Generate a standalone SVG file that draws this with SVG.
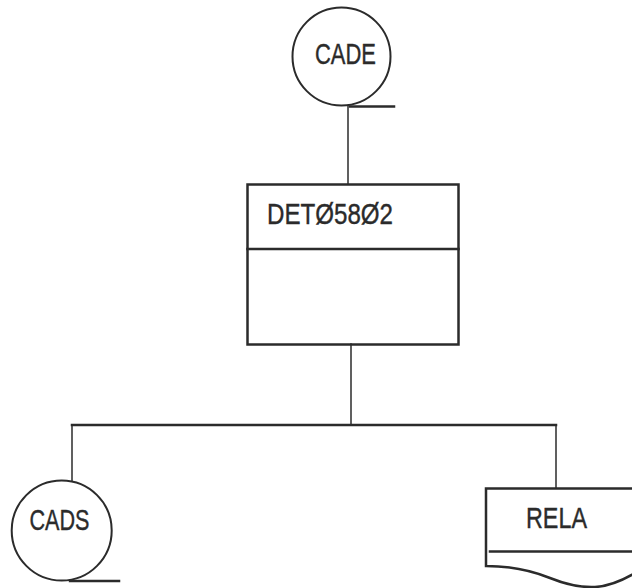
<svg xmlns="http://www.w3.org/2000/svg" width="632" height="588" viewBox="0 0 632 588">
<style>
.s{fill:none;stroke:#2b2b2b;stroke-linecap:square}
.thin{stroke-width:1.5}
.thick{stroke-width:2.5}
.t{font-family:"Liberation Sans","DejaVu Sans",sans-serif;font-size:30px;fill:#2b2b2b;stroke:#2b2b2b;stroke-width:0.4}
</style>
<rect width="632" height="588" fill="#ffffff"/>
<g id="connectors" class="s thin">
<line x1="348" y1="106" x2="348" y2="184"/>
<line x1="351" y1="344" x2="351" y2="425"/>
<line x1="72" y1="425" x2="556" y2="425" class="s thick"/>
<line x1="72" y1="425" x2="72" y2="481"/>
<line x1="556" y1="425" x2="556" y2="488"/>
</g>
<g id="CADE">
<circle cx="341.5" cy="56.5" r="49" class="s" stroke-width="2"/>
<line x1="350" y1="106.5" x2="394" y2="106.5" class="s thick"/>
<text x="315" y="63.5" class="t" textLength="61" lengthAdjust="spacingAndGlyphs">CADE</text>
</g>
<g id="DET05802">
<rect x="247.5" y="184.5" width="211" height="160" class="s thick"/>
<line x1="247.5" y1="249" x2="458.5" y2="249" class="s thick"/>
<text x="267" y="223.5" class="t" textLength="126" lengthAdjust="spacingAndGlyphs">DETØ58Ø2</text>
</g>
<g id="CADS">
<circle cx="61.7" cy="530.5" r="50" class="s" stroke-width="2"/>
<line x1="70" y1="581" x2="119" y2="581" class="s thick"/>
<text x="29.5" y="530" class="t" textLength="60" lengthAdjust="spacingAndGlyphs">CADS</text>
</g>
<g id="RELA">
<path d="M640 488.5 H486 V566 Q520 566 550 578 Q575 588 595 587 Q615 586 640 570" class="s thick"/>
<line x1="490" y1="551.5" x2="640" y2="551.5" class="s thick"/>
<text x="526" y="528" class="t" textLength="61" lengthAdjust="spacingAndGlyphs">RELA</text>
</g>
</svg>
